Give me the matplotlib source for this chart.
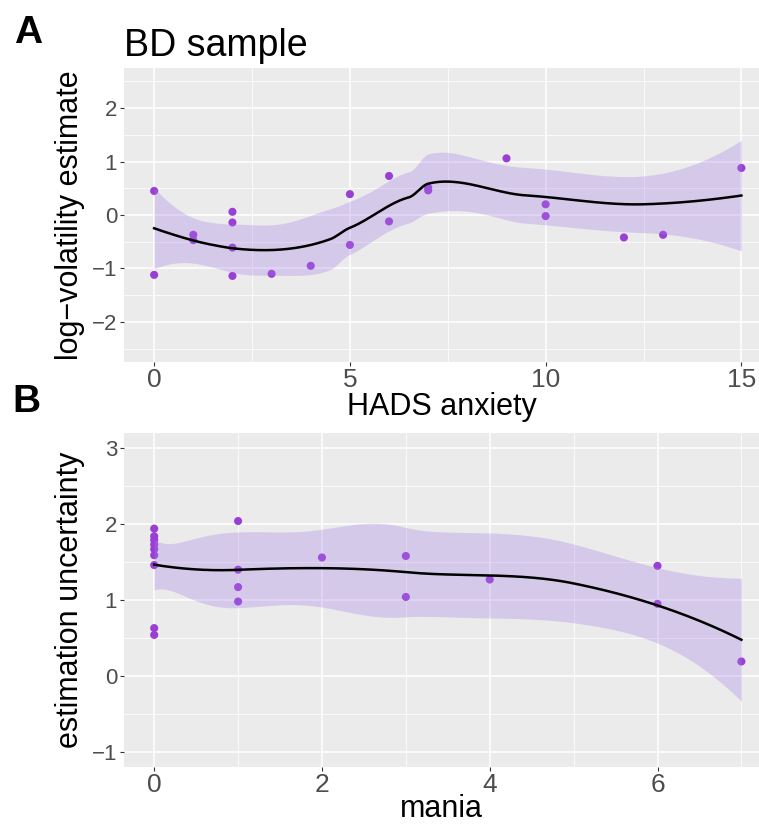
import matplotlib
matplotlib.use("Agg")
import matplotlib.pyplot as plt
import numpy as np

# data
hads_anxiety = [0, 0, 1, 1, 2, 2, 2, 2, 3, 4, 5, 5, 6, 6, 7, 7, 9, 10, 10, 12, 13, 15]
log_volatility = [0.45, -1.12, -0.37, -0.47, 0.06, -0.14, -0.61, -1.14, -1.10, -0.95,
                  0.39, -0.56, 0.73, -0.12, 0.51, 0.46, 1.06, 0.20, -0.02, -0.42, -0.37, 0.88]

mania = [0, 0, 0, 0, 0, 0, 0, 0, 0, 1, 1, 1, 1, 2, 3, 3, 4, 6, 6, 7]
uncertainty = [1.94, 1.84, 1.79, 1.73, 1.67, 1.59, 1.46, 0.63, 0.54,
               2.04, 1.40, 1.17, 0.98, 1.56, 1.58, 1.04, 1.27, 1.45, 0.95, 0.19]

point_color = "#9A3FD5"
band_color = "#A57BE6"
panel_bg = "#EBEBEB"


def loess_smooth(x, y, xs, span=0.75):
    # loess (degree 2) evaluated on kd-tree vertices and joined with cubic
    # Hermite pieces, roughly as R's loess(surface = "interpolate") does
    x = np.asarray(x, float)
    y = np.asarray(y, float)
    n = len(x)
    q = int(np.floor(n * span))
    fc = int(np.floor(n * span * 0.2))

    def local(x0):
        d = np.abs(x - x0)
        h = np.sort(d)[q - 1]
        w = np.clip(1 - (d / h) ** 3, 0, None) ** 3
        X = np.column_stack([np.ones(n), x - x0, (x - x0) ** 2])
        XtW = X.T * w
        B = np.linalg.solve(XtW @ X, XtW)
        return B[0], B[1]

    margin = 0.005 * (x.max() - x.min())
    verts = {x.min() - margin, x.max() + margin}

    def split(pts, a, b):
        if len(pts) <= fc:
            return
        pts = np.sort(pts)
        m = (len(pts) + 1) // 2
        v = (pts[m - 1] + pts[m]) / 2
        if v <= a or v >= b:
            return
        left, right = pts[pts <= v], pts[pts > v]
        if len(left) == 0 or len(right) == 0:
            return
        verts.add(v)
        split(left, a, v)
        split(right, v, b)

    split(x, x.min() - margin, x.max() + margin)
    verts = np.array(sorted(verts))
    rows = [local(v) for v in verts]

    def operator(pts):
        out = []
        for p in pts:
            i = min(max(np.searchsorted(verts, p) - 1, 0), len(verts) - 2)
            a, b = verts[i], verts[i + 1]
            h = b - a
            t = (p - a) / h
            h00 = 2 * t ** 3 - 3 * t ** 2 + 1
            h10 = t ** 3 - 2 * t ** 2 + t
            h01 = -2 * t ** 3 + 3 * t ** 2
            h11 = t ** 3 - t ** 2
            out.append(h00 * rows[i][0] + h10 * h * rows[i][1]
                       + h01 * rows[i + 1][0] + h11 * h * rows[i + 1][1])
        return np.array(out)

    L = operator(x)
    M = np.eye(n) - L
    MM = M.T @ M
    d1 = np.trace(MM)
    d2 = np.trace(MM @ MM)
    sigma = np.sqrt(np.sum((M @ y) ** 2) / d1)
    df = d1 ** 2 / d2
    z = 1.959964
    tq = (z + (z ** 3 + z) / (4 * df) + (5 * z ** 5 + 16 * z ** 3 + 3 * z) / (96 * df ** 2)
          + (3 * z ** 7 + 19 * z ** 5 + 17 * z ** 3 - 15 * z) / (384 * df ** 3))
    Ls = operator(xs)
    fit = Ls @ y
    se = sigma * np.sqrt(np.sum(Ls ** 2, axis=1))
    return fit, fit - tq * se, fit + tq * se


def style_panel(ax, xmajor, xminor, ymajor, yminor):
    ax.set_facecolor(panel_bg)
    for s in ax.spines.values():
        s.set_visible(False)
    ax.set_xticks(xmajor)
    ax.set_xticks(xminor, minor=True)
    ax.set_yticks(ymajor)
    ax.set_yticks(yminor, minor=True)
    ax.grid(which="major", color="white", linewidth=1.1)
    ax.grid(which="minor", color="white", linewidth=0.55)
    ax.set_axisbelow(True)
    ax.tick_params(which="major", length=3, width=0.8, color="#333333", pad=2)
    ax.tick_params(axis="x", pad=1)
    ax.tick_params(which="minor", length=0)
    ax.tick_params(axis="y", labelsize=16, labelcolor="#4D4D4D")
    for lab in ax.get_xticklabels():
        lab.set_fontfamily(["Liberation Sans Narrow", "Liberation Sans"])
        lab.set_fontsize(19)
        lab.set_color("#4D4D4D")


def draw(ax, x, y):
    xs = np.linspace(min(x), max(x), 300)
    fit, lo, hi = loess_smooth(x, y, xs)
    ax.scatter(x, y, s=34, color=point_color, edgecolors="none", zorder=2)
    ax.fill_between(xs, lo, hi, color=band_color, alpha=0.3, linewidth=0, zorder=3)
    ax.plot(xs, fit, color="black", linewidth=1.8, zorder=4)


plt.rcParams["font.family"] = ["Liberation Sans", "DejaVu Sans"]

W, H = 759, 827
fig = plt.figure(figsize=(W / 100, H / 100), dpi=100)

ax1 = fig.add_axes([124 / W, 1 - 362 / H, (W - 124) / W, (362 - 68) / H])
draw(ax1, hads_anxiety, log_volatility)
style_panel(ax1, [0, 5, 10, 15], [2.5, 7.5, 12.5], [-2, -1, 0, 1, 2],
            [-2.5, -1.5, -0.5, 0.5, 1.5, 2.5])
ax1.set_xlim(-0.77, 15.45)
ax1.set_ylim(-2.75, 2.75)
ax1.set_xlabel("HADS anxiety", fontsize=22, labelpad=0)
ax1.set_ylabel("log\u2212volatility estimate", fontsize=22, labelpad=5)

ax2 = fig.add_axes([124 / W, 1 - 767 / H, (W - 124) / W, (767 - 433) / H])
draw(ax2, mania, uncertainty)
style_panel(ax2, [0, 2, 4, 6], [1, 3, 5, 7], [-1, 0, 1, 2, 3],
            [-0.5, 0.5, 1.5, 2.5])
ax2.set_xlim(-0.36, 7.21)
ax2.set_ylim(-1.2, 3.2)
ax2.set_xlabel("mania", fontsize=22, labelpad=-2)
ax2.set_ylabel("estimation uncertainty", fontsize=22, labelpad=5)

fig.text(124 / W, 1 - 56 / H, "BD sample", fontsize=27, va="baseline", ha="left")
fig.text(14 / W, 1 - 43 / H, "A", fontsize=28, fontweight="bold", va="baseline")
fig.text(12 / W, 1 - 412 / H, "B", fontsize=28, fontweight="bold", va="baseline")

fig.savefig("out.png", dpi=100)
